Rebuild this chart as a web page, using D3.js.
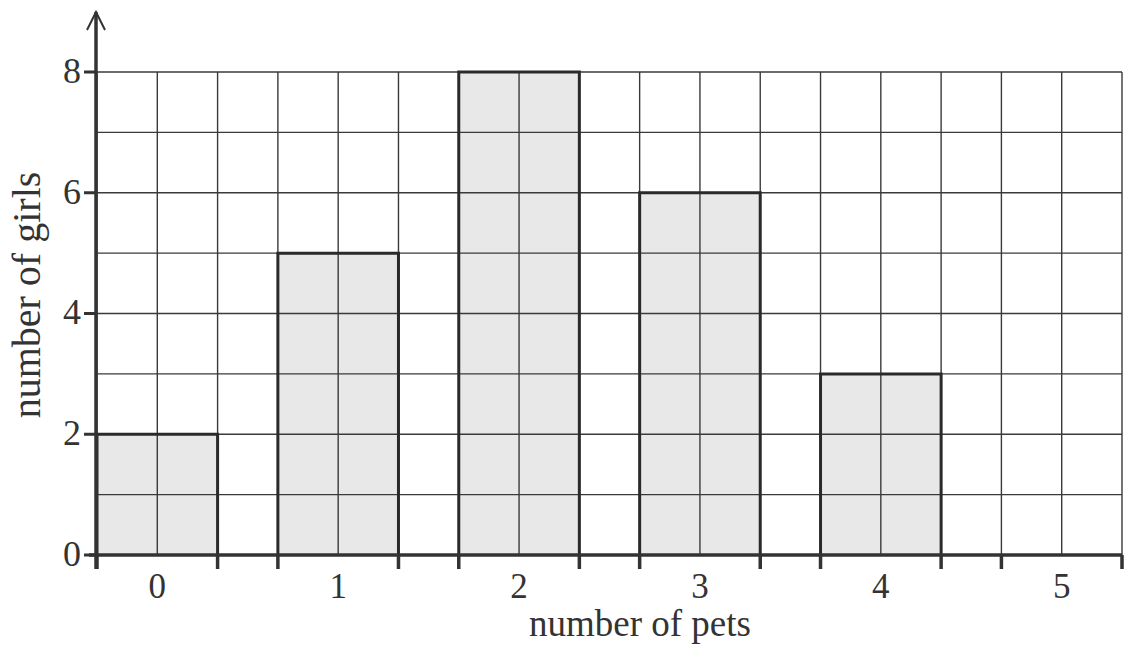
<!DOCTYPE html>
<html>
<head>
<meta charset="utf-8">
<script src="https://cdn.jsdelivr.net/npm/d3@7"></script>
<style>
  body { margin: 0; background: #fff; }
  text { font-family: "Liberation Serif", "DejaVu Serif", serif; fill: #333; }
</style>
</head>
<body>
<svg id="chart" width="1128" height="646"></svg>
<script>
// number of pets on x, number of girls on y
var pets = [0, 1, 2, 3, 4, 5];
var girls = [2, 5, 8, 6, 3, 0];
var yTicks = [0, 2, 4, 6, 8];

var svg = d3.select("#chart");

var plotLeft = 97, plotRight = 1122, plotBottom = 555, plotTop = 72;

// each category = 3 grid columns, bar takes 2 of them
var x = d3.scaleBand()
  .domain(pets)
  .range([plotLeft, plotRight])
  .paddingInner(1 / 3)
  .paddingOuter(0);

var y = d3.scaleLinear()
  .domain([0, 8])
  .range([plotBottom, plotTop]);

var col = x.step() / 3;
var nCols = Math.round((plotRight - plotLeft) / col);

// grid
var grid = svg.append("g").attr("stroke", "#3a3a3a").attr("stroke-width", 1.4);
d3.range(0, nCols + 1).forEach(function(k) {
  grid.append("line")
    .attr("x1", plotLeft + k * col).attr("x2", plotLeft + k * col)
    .attr("y1", y(8)).attr("y2", y(0));
});
d3.range(0, 9).forEach(function(v) {
  grid.append("line")
    .attr("x1", plotLeft).attr("x2", plotRight)
    .attr("y1", y(v)).attr("y2", y(v));
});

// bars
svg.append("g").selectAll("rect")
  .data(pets)
  .enter()
  .append("rect")
    .attr("x", function(d) { return x(d); })
    .attr("y", function(d, i) { return y(girls[i]); })
    .attr("width", x.bandwidth())
    .attr("height", function(d, i) { return y(0) - y(girls[i]); })
    .style("fill", "#e8e8e8");

// grid lines show through the shading
var inner = svg.append("g").attr("stroke", "#3a3a3a").attr("stroke-width", 1.4);
pets.forEach(function(d, i) {
  if (girls[i] <= 0) return;
  inner.append("line")
    .attr("x1", x(d) + col).attr("x2", x(d) + col)
    .attr("y1", y(girls[i])).attr("y2", y(0));
  d3.range(1, girls[i]).forEach(function(v) {
    inner.append("line")
      .attr("x1", x(d)).attr("x2", x(d) + x.bandwidth())
      .attr("y1", y(v)).attr("y2", y(v));
  });
});

// bar outlines
svg.append("g").selectAll("path")
  .data(pets.filter(function(d, i) { return girls[i] > 0; }))
  .enter()
  .append("path")
    .attr("d", function(d) {
      var v = girls[pets.indexOf(d)];
      return "M" + x(d) + "," + y(0) + "V" + y(v) + "H" + (x(d) + x.bandwidth()) + "V" + y(0);
    })
    .attr("fill", "none")
    .attr("stroke", "#2a2a2a")
    .attr("stroke-width", 3);

// x axis: ticks at the bar edges, labels at bar centres
var xAxis = svg.append("g");
xAxis.append("line")
  .attr("x1", plotLeft - 8).attr("x2", plotRight)
  .attr("y1", y(0)).attr("y2", y(0))
  .attr("stroke", "#333").attr("stroke-width", 3.5);
var edges = [];
pets.forEach(function(d) { edges.push(x(d), x(d) + x.bandwidth()); });
xAxis.selectAll(".xt")
  .data(edges)
  .enter()
  .append("line")
    .attr("x1", function(d) { return d; }).attr("x2", function(d) { return d; })
    .attr("y1", y(0)).attr("y2", y(0) + 14)
    .attr("stroke", "#333").attr("stroke-width", 3.5);
xAxis.selectAll("text")
  .data(pets)
  .enter()
  .append("text")
    .attr("x", function(d) { return x(d) + x.bandwidth() / 2; })
    .attr("y", 598)
    .attr("text-anchor", "middle")
    .style("font-size", "35px")
    .text(function(d) { return d; });

// y axis with arrow
var yAxis = svg.append("g");
yAxis.append("line")
  .attr("x1", plotLeft - 1).attr("x2", plotLeft - 1)
  .attr("y1", y(0) + 14).attr("y2", 12)
  .attr("stroke", "#333").attr("stroke-width", 3.5);
yAxis.append("path")
  .attr("d", "M" + (plotLeft - 10) + ",30L" + (plotLeft - 1) + ",12L" + (plotLeft + 8) + ",30")
  .attr("fill", "none").attr("stroke", "#333").attr("stroke-width", 2);
yAxis.selectAll(".yt")
  .data(yTicks)
  .enter()
  .append("line")
    .attr("x1", plotLeft - 13).attr("x2", plotLeft)
    .attr("y1", function(d) { return y(d); }).attr("y2", function(d) { return y(d); })
    .attr("stroke", "#333").attr("stroke-width", 3);
yAxis.selectAll("text")
  .data(yTicks)
  .enter()
  .append("text")
    .attr("x", 81)
    .attr("y", function(d) { return y(d) - 2; })
    .attr("dy", "0.36em")
    .attr("text-anchor", "end")
    .style("font-size", "36px")
    .text(function(d) { return d; });

// axis titles
svg.append("text")
  .attr("x", 640).attr("y", 636)
  .attr("text-anchor", "middle")
  .style("font-size", "37px")
  .text("number of pets");
svg.append("text")
  .attr("transform", "translate(40,295) rotate(-90)")
  .attr("text-anchor", "middle")
  .style("font-size", "40px")
  .text("number of girls");
</script>
</body>
</html>
